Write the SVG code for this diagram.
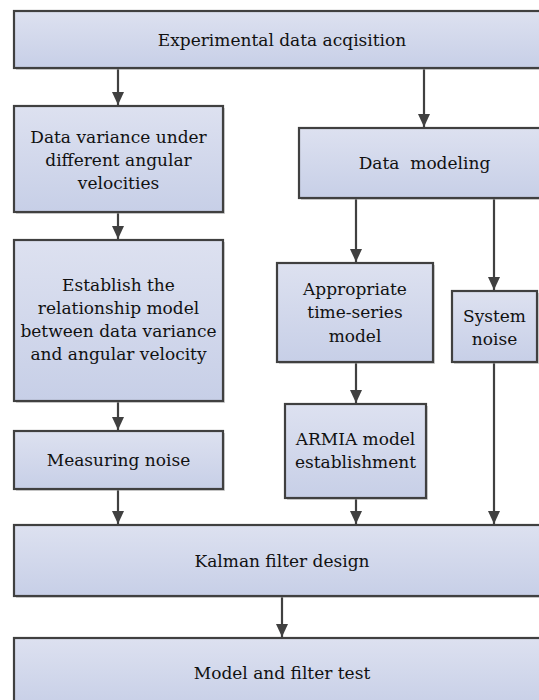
<svg xmlns="http://www.w3.org/2000/svg" width="539" height="700" viewBox="0 0 539 700">
<defs>
<linearGradient id="g" x1="0" y1="0" x2="0" y2="1">
<stop offset="0" stop-color="#dde1f0"/>
<stop offset="1" stop-color="#c7cfe7"/>
</linearGradient>
<marker id="ah" markerUnits="userSpaceOnUse" markerWidth="14" markerHeight="12" refX="13" refY="6" orient="auto">
<path d="M0,0 L13,6 L0,12 z" fill="#404040"/>
</marker>
<style>
.box{fill:url(#g);stroke:#404040;stroke-width:2.2}
.sh{fill:#a8a8a8;opacity:0.5}
.t{font-family:"DejaVu Serif","Liberation Serif",serif;font-size:17px;fill:#111;text-anchor:middle}
.c{stroke:#404040;stroke-width:2.2;fill:none;marker-end:url(#ah)}
</style>
</defs>
<rect width="539" height="700" fill="#fff"/>
<g id="connectors">
<line class="c" x1="118" y1="68" x2="118" y2="105"/>
<line class="c" x1="424" y1="68" x2="424" y2="127"/>
<line class="c" x1="118" y1="212" x2="118" y2="239"/>
<line class="c" x1="118" y1="401" x2="118" y2="430"/>
<line class="c" x1="118" y1="489" x2="118" y2="524"/>
<line class="c" x1="356" y1="198" x2="356" y2="262"/>
<line class="c" x1="494" y1="198" x2="494" y2="290"/>
<line class="c" x1="356" y1="362" x2="356" y2="403"/>
<line class="c" x1="356" y1="498" x2="356" y2="524"/>
<line class="c" x1="494" y1="362" x2="494" y2="524"/>
<line class="c" x1="282" y1="596" x2="282" y2="637"/>
</g>
<g id="n-top">
<rect class="sh" x="16" y="13" width="536" height="57"/>
<rect class="box" x="14" y="11" width="536" height="57"/>
<text class="t" x="282" y="46">Experimental data acqisition</text>
</g>
<g id="n-variance">
<rect class="sh" x="16" y="108" width="209" height="106"/>
<rect class="box" x="14" y="106" width="209" height="106"/>
<text class="t" x="118.5" y="143">Data variance under</text>
<text class="t" x="118.5" y="166">different angular</text>
<text class="t" x="118.5" y="189">velocities</text>
</g>
<g id="n-modeling">
<rect class="sh" x="301" y="130" width="249" height="70"/>
<rect class="box" x="299" y="128" width="251" height="70"/>
<text class="t" x="424.5" y="169" xml:space="preserve">Data  modeling</text>
</g>
<g id="n-relationship">
<rect class="sh" x="16" y="242" width="209" height="161"/>
<rect class="box" x="14" y="240" width="209" height="161"/>
<text class="t" x="118.5" y="291">Establish the</text>
<text class="t" x="118.5" y="314">relationship model</text>
<text class="t" x="118.5" y="337">between data variance</text>
<text class="t" x="118.5" y="360">and angular velocity</text>
</g>
<g id="n-timeseries">
<rect class="sh" x="279" y="265" width="156" height="99"/>
<rect class="box" x="277" y="263" width="156" height="99"/>
<text class="t" x="355" y="295">Appropriate</text>
<text class="t" x="355" y="318">time-series</text>
<text class="t" x="355" y="342">model</text>
</g>
<g id="n-system">
<rect class="sh" x="454" y="293" width="85" height="71"/>
<rect class="box" x="452" y="291" width="85" height="71"/>
<text class="t" x="494.5" y="322">System</text>
<text class="t" x="494.5" y="345">noise</text>
</g>
<g id="n-measuring">
<rect class="sh" x="16" y="433" width="209" height="58"/>
<rect class="box" x="14" y="431" width="209" height="58"/>
<text class="t" x="118.5" y="466">Measuring noise</text>
</g>
<g id="n-armia">
<rect class="sh" x="287" y="406" width="141" height="94"/>
<rect class="box" x="285" y="404" width="141" height="94"/>
<text class="t" x="355.5" y="445">ARMIA model</text>
<text class="t" x="355.5" y="468">establishment</text>
</g>
<g id="n-kalman">
<rect class="sh" x="16" y="527" width="536" height="71"/>
<rect class="box" x="14" y="525" width="536" height="71"/>
<text class="t" x="282" y="567">Kalman filter design</text>
</g>
<g id="n-test">
<rect class="sh" x="16" y="640" width="536" height="70"/>
<rect class="box" x="14" y="638" width="536" height="70"/>
<text class="t" x="282" y="679">Model and filter test</text>
</g>
</svg>
